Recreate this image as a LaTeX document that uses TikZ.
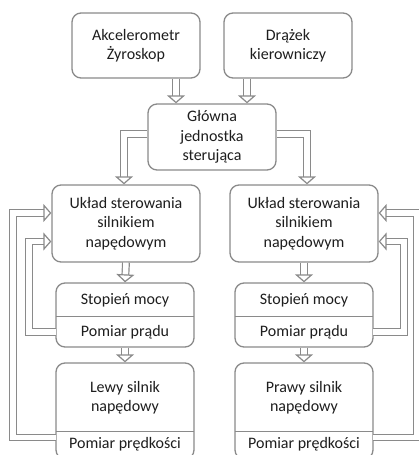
\documentclass[tikz,border=0pt]{standalone}
\usepackage{fontspec}
\setmainfont{Carlito}
\usepackage{tikz}
\usetikzlibrary{arrows.meta}

\definecolor{szary}{RGB}{138,138,138}
\definecolor{tekst}{RGB}{30,30,30}

\tikzset{
	blok/.style={draw=szary, line width=1.3pt, rounded corners=9pt, fill=white,
		align=center, text=tekst, font=\fontsize{16}{19.5}\selectfont, inner sep=0pt},
	czesc/.style={align=center, text=tekst, font=\fontsize{16}{19.5}\selectfont,
		inner sep=0pt, minimum width=138pt},
	strzalka/.style={draw=szary, line width=1.2pt, double=white, double distance=5.5pt,
		-{Triangle[open, length=8pt, width=18pt]}}
}

\begin{document}
\begin{tikzpicture}[x=1pt, y=-1pt]
	\useasboundingbox (0,0) rectangle (418,455);

	% gora
	\node[blok, minimum width=128pt, minimum height=65pt] (acc) at (136,45.5) {Akcelerometr\\Żyroskop};
	\node[blok, minimum width=128pt, minimum height=65pt] (drazek) at (288,45.5) {Drążek\\kierowniczy};
	\node[blok, minimum width=128pt, minimum height=66pt] (glowna) at (212,137) {Główna\\jednostka\\sterująca};

	% lewa strona
	\node[blok, minimum width=148pt, minimum height=77pt] (uklL) at (126,223.5) {Układ sterowania\\silnikiem\\napędowym};
	\node[blok, minimum width=138pt, minimum height=64pt] (stopL) at (125,315) {};
	\node[czesc, minimum height=34pt] (mocL) at (125,300) {Stopień mocy};
	\node[czesc, minimum height=30pt] (pradL) at (125,332) {Pomiar prądu};
	\draw[szary, line width=1.3pt] (pradL.north west) -- (pradL.north east);
	\node[blok, minimum width=138pt, minimum height=96pt] (silnikL) at (125,411) {};
	\node[czesc, minimum height=69pt] (lewy) at (125,397.5) {Lewy silnik\\napędowy};
	\node[czesc, minimum height=24pt] (predL) at (125,444) {Pomiar prędkości};
	\draw[szary, line width=1.3pt] (predL.north west) -- (predL.north east);

	% prawa strona
	\node[blok, minimum width=148pt, minimum height=77pt] (uklR) at (304,223.5) {Układ sterowania\\silnikiem\\napędowym};
	\node[blok, minimum width=138pt, minimum height=64pt] (stopR) at (304,315) {};
	\node[czesc, minimum height=34pt] (mocR) at (304,300) {Stopień mocy};
	\node[czesc, minimum height=30pt] (pradR) at (304,332) {Pomiar prądu};
	\draw[szary, line width=1.3pt] (pradR.north west) -- (pradR.north east);
	\node[blok, minimum width=138pt, minimum height=96pt] (silnikR) at (304,411) {};
	\node[czesc, minimum height=69pt] (prawy) at (304,397.5) {Prawy silnik\\napędowy};
	\node[czesc, minimum height=24pt] (predR) at (304,444) {Pomiar prędkości};
	\draw[szary, line width=1.3pt] (predR.north west) -- (predR.north east);

	% strzalki
	\draw[strzalka] ([xshift=40pt]acc.south) -- ([xshift=40pt]acc.south |- glowna.north);
	\draw[strzalka] ([xshift=-41pt]drazek.south) -- ([xshift=-41pt]drazek.south |- glowna.north);
	\draw[strzalka] ([yshift=3pt]glowna.west) -| ([xshift=-2pt]uklL.north);
	\draw[strzalka] ([yshift=3pt]glowna.east) -| ([xshift=3pt]uklR.north);
	\draw[strzalka] (uklL.south) -- (stopL.north);
	\draw[strzalka] (stopL.south) -- (silnikL.north);
	\draw[strzalka] (uklR.south) -- (stopR.north);
	\draw[strzalka] (stopR.south) -- (silnikR.north);

	% sprzezenia zwrotne
	\draw[strzalka] (pradL.west) -- ++(-27,0) |- ([yshift=-18pt]uklL.west);
	\draw[strzalka] ([yshift=6.5pt]predL.west) -- ++(-43,0) |- ([yshift=10.5pt]uklL.west);
	\draw[strzalka] (pradR.east) -- ++(31,0) |- ([yshift=-18pt]uklR.east);
	\draw[strzalka] ([yshift=6.5pt]predR.east) -- ++(44,0) |- ([yshift=10.5pt]uklR.east);
\end{tikzpicture}
\end{document}
